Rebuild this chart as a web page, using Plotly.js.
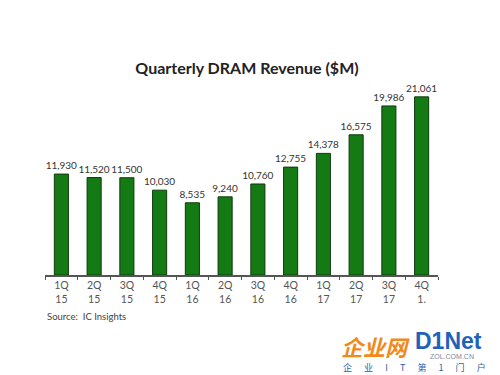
<!DOCTYPE html>
<html>
<head>
<meta charset="utf-8">
<script src="https://cdn.plot.ly/plotly-3.0.1.min.js"></script>
<style>html,body{margin:0;padding:0;background:#fff;}#chart{width:500px;height:375px;}</style>
</head>
<body>
<div id="chart"></div>
<script>
var quarters = ["1Q<br>15","2Q<br>15","3Q<br>15","4Q<br>15","1Q<br>16","2Q<br>16","3Q<br>16","4Q<br>16","1Q<br>17","2Q<br>17","3Q<br>17","4Q<br>1."];
var revenue = [11930, 11520, 11500, 10030, 8535, 9240, 10760, 12755, 14378, 16575, 19986, 21061];
var revenueLabels = ["11,930","11,520","11,500","10,030","8,535","9,240","10,760","12,755","14,378","16,575","19,986","21,061"];

var trace = {
  type: "bar",
  x: quarters,
  y: revenue,
  text: revenueLabels,
  textposition: "outside",
  constraintext: "none",
  cliponaxis: false,
  textfont: {family: "Lato, sans-serif", size: 10, color: "#333"},
  marker: {color: "#147a14", line: {color: "#0e3a0e", width: 1}},
  width: 0.43,
  hoverinfo: "skip"
};

var S = "\u00a0\u00a0\u00a0\u00a0\u00a0\u00a0";
var layout = {
  width: 500, height: 375,
  margin: {l: 45, r: 62, t: 72, b: 100},
  paper_bgcolor: "#fff", plot_bgcolor: "#fff",
  showlegend: false,
  title: {text: "<b>Quarterly DRAM Revenue ($M)</b>", x: 0.494, xanchor: "center", y: 0.818, yanchor: "middle",
          font: {family: "Lato, sans-serif", size: 16, color: "#222"}},
  xaxis: {
    type: "category",
    showline: true, linecolor: "#555", linewidth: 1.5,
    ticks: "outside", tickson: "boundaries", ticklen: 3, tickcolor: "#555", tickwidth: 1,
    tickfont: {family: "Lato, sans-serif", size: 10.5, color: "#555"},
    showgrid: false, zeroline: false, fixedrange: true
  },
  yaxis: {
    range: [0, 24000], visible: false, showgrid: false, zeroline: false, fixedrange: true
  },
  annotations: [
    {text: "Source:  IC Insights", xref: "paper", yref: "paper", x: 0, y: -0.205, xanchor: "left", yanchor: "middle",
     showarrow: false, font: {family: "Lato, sans-serif", size: 9.5, color: "#444"}},
    {text: "<b><i>企业网</i></b>", xref: "paper", yref: "paper", x: (339-45)/393, y: (275-346)/203, xanchor: "left", yanchor: "middle",
     showarrow: false, font: {family: "Noto Sans CJK SC, sans-serif", size: 22, color: "#f08a1c"}},
    {text: "<b>D1Net</b>", xref: "paper", yref: "paper", x: (413-45)/393, y: (275-341)/203, xanchor: "left", yanchor: "middle",
     showarrow: false, font: {family: "Liberation Sans, sans-serif", size: 23, color: "#1f63b8"}},
    {text: "ZOL.COM.CN", xref: "paper", yref: "paper", x: (428-45)/393, y: (275-356.5)/203, xanchor: "left", yanchor: "middle",
     showarrow: false, font: {family: "Liberation Sans, sans-serif", size: 7, color: "#7a8aa0"}},
    {text: ["企","业","I","T","第","1","门","户"].join(S), xref: "paper", yref: "paper", x: (341-45)/393, y: (275-367.5)/203, xanchor: "left", yanchor: "middle",
     showarrow: false, font: {family: "Noto Sans CJK SC, sans-serif", size: 9, color: "#2a5fa8"}}
  ]
};

Plotly.newPlot("chart", [trace], layout, {displayModeBar: false, staticPlot: true});
</script>
</body>
</html>
